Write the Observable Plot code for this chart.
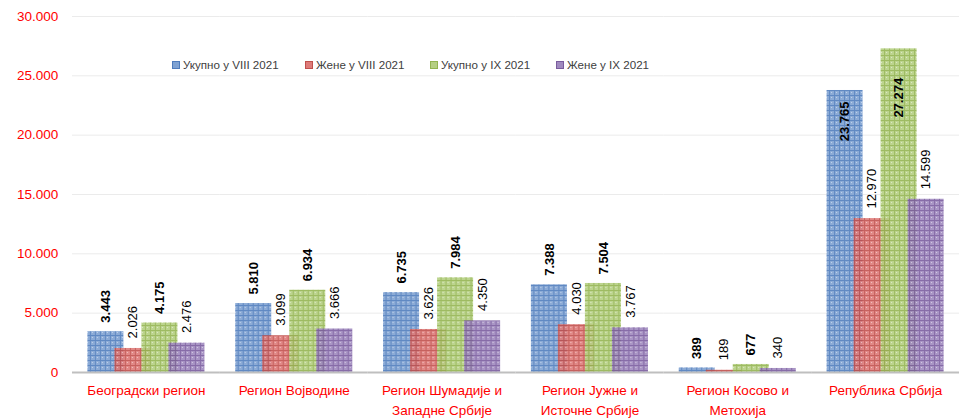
<!DOCTYPE html>
<html><head><meta charset="utf-8">
<script src="https://cdn.jsdelivr.net/npm/d3@7"></script>
<script src="https://cdn.jsdelivr.net/npm/@observablehq/plot@0.6"></script>
<style>
body{margin:0;background:#fff;font-family:"Liberation Sans",Arial,sans-serif}
#wrap{position:relative;width:968px;height:420px}
#legend{position:absolute;left:0;top:58px;width:968px;height:18px;font-size:11.6px;color:#404040;white-space:nowrap}
#legend .it{position:absolute;top:0;display:flex;align-items:center;gap:3px}
#legend .sw{width:8px;height:8px;display:inline-block;box-sizing:border-box}
</style></head><body><div id="wrap"><div id="legend"></div></div>
<script>
const regions = ["Београдски регион", "Регион Војводине", "Регион Шумадије и\nЗападне Србије", "Регион Јужне и\nИсточне Србије", "Регион Косово и\nМетохија", "Република Србија"];
const series = ["Укупно у VIII 2021", "Жене у VIII 2021", "Укупно у IX 2021", "Жене у IX 2021"];
const ukupnoVIII = [3443, 5810, 6735, 7388, 389, 23765];
const zeneVIII = [2026, 3099, 3626, 4030, 189, 12970];
const ukupnoIX = [4175, 6934, 7984, 7504, 677, 27274];
const zeneIX = [2476, 3666, 4350, 3767, 340, 14599];
const yTicks = [0, 5000, 10000, 15000, 20000, 25000, 30000];

const values = [ukupnoVIII, zeneVIII, ukupnoIX, zeneIX];
const data = regions.flatMap((r, i) => series.map((s, j) => ({region: r, series: s, si: j, value: values[j][i]})));
const loc = d3.formatLocale({decimal: ",", thousands: ".", grouping: [3], currency: ["", ""]});
const fmt = loc.format(",d");

const pats = [
  {id: "p0", bg: "#7fa2d2", line: "#4f7cbc", dot: "#b9cdea"},
  {id: "p1", bg: "#de7b79", line: "#c0504d", dot: "#f0bcbb"},
  {id: "p2", bg: "#b5cf82", line: "#93b451", dot: "#d9e7c0"},
  {id: "p3", bg: "#a08abf", line: "#7a5c9e", dot: "#cfc3df"}
];
const legendLeft = [172, 305, 430, 556];
const bold = d => d.si === 0 || d.si === 2;
const inside = d => d.value > 20000;

const common = {fx: "region", x: "series", y: "value", text: d => fmt(d.value), rotate: -90, fontSize: 13, fill: "#000", lineAnchor: "middle"};
const half = 19.9;

const plot = Plot.plot({
  width: 968, height: 420,
  marginLeft: 72, marginRight: 9, marginTop: 16, marginBottom: 48,
  style: {fontFamily: "'Liberation Sans', Arial, sans-serif", background: "white"},
  fx: {domain: regions, paddingInner: 0.269, paddingOuter: 0.1345, round: false, label: null},
  x: {domain: series, padding: 0, round: false, axis: null},
  y: {domain: [0, 30000], label: null},
  color: {domain: series, range: pats.map(p => `url(#${p.id})`)},
  marks: [
    Plot.ruleY(yTicks.slice(1), {stroke: "#ebebeb", strokeWidth: 1, insetLeft: -half, insetRight: -half}),
    Plot.axisY({ticks: yTicks, tickFormat: fmt, tickSize: 0, tickPadding: 34, fill: "red", fontSize: 13.5, label: null}),
    Plot.axisFx({anchor: "bottom", tickSize: 0, tickPadding: 9, fontSize: 13.5, fill: "red", lineHeight: 1.45, label: null}),
    Plot.barY(data, {fx: "region", x: "series", y: "value", fill: "series", insetLeft: -4.5, insetRight: -4.5, fillOpacity: 0.9}),
    Plot.ruleY([0], {stroke: "#bfbfbf", strokeWidth: 2, insetLeft: -half, insetRight: -half}),
    Plot.text(data, {...common, filter: d => !inside(d) && bold(d), textAnchor: "start", dy: -9, fontWeight: "bold"}),
    Plot.text(data, {...common, filter: d => !inside(d) && !bold(d), textAnchor: "start", dy: -10}),
    Plot.text(data, {...common, filter: d => inside(d) && d.si === 0, textAnchor: "end", dy: 11, fontWeight: "bold"}),
    Plot.text(data, {...common, filter: d => inside(d) && d.si === 2, textAnchor: "end", dy: 29, fontWeight: "bold"})
  ]
});

const svg = d3.select(plot);
const defs = svg.insert("defs", ":first-child");
for (const p of pats) {
  const pt = defs.append("pattern").attr("id", p.id).attr("patternUnits", "userSpaceOnUse").attr("width", 5).attr("height", 5);
  pt.append("rect").attr("width", 5).attr("height", 5).attr("fill", p.bg);
  pt.append("rect").attr("x", 2).attr("y", 2).attr("width", 1).attr("height", 1).attr("fill", p.dot);
  pt.append("path").attr("d", "M0,0.5H5M0.5,0V5").attr("stroke", p.line).attr("stroke-width", 1);
}

document.getElementById("wrap").prepend(plot);
const lg = d3.select("#legend");
series.forEach((s, i) => {
  const it = lg.append("div").attr("class", "it").style("left", legendLeft[i] + "px");
  it.append("span").attr("class", "sw").style("background", pats[i].bg).style("border", `1px solid ${pats[i].line}`);
  it.append("span").text(s);
});
</script></body></html>
